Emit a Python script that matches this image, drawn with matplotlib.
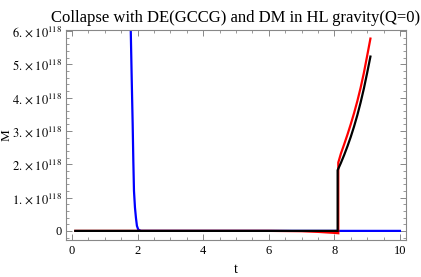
import matplotlib
matplotlib.use("Agg")
import matplotlib.pyplot as plt
from matplotlib.ticker import FixedLocator, MultipleLocator, FuncFormatter

plt.rcParams['font.family'] = ['Liberation Serif', 'DejaVu Serif']
plt.rcParams['mathtext.fontset'] = 'stix'

SCALE = 1e118

# blue curve
t_blue = [1.79, 1.82, 1.85, 1.87, 1.89, 1.92, 1.95, 1.98, 2.02, 2.1, 10.0]
m_blue = [6.1, 4.6, 3.2, 2.1, 1.2, 0.7, 0.39, 0.15, 0.04, 0.0, 0.0]

# red curve
t_red = [0.1, 6.0, 7.0, 7.5, 8.0, 8.12, 8.12, 8.2, 8.3, 8.4, 8.5, 8.6, 8.7, 8.8, 8.9, 9.0, 9.1]
m_red = [0.0, 0.0, -0.01, -0.03, -0.06, -0.07, 2.05, 2.32, 2.60, 2.89, 3.20, 3.53, 3.89, 4.29, 4.74, 5.25, 5.77]

# black curve
t_black = [0.1, 8.1, 8.1, 8.2, 8.3, 8.4, 8.5, 8.6, 8.7, 8.8, 8.9, 9.0, 9.1]
m_black = [0.0, 0.0, 1.82, 2.04, 2.28, 2.54, 2.82, 3.13, 3.47, 3.85, 4.27, 4.74, 5.23]

x_ticks = [0, 2, 4, 6, 8, 10]
y_ticks = [0, 1, 2, 3, 4, 5, 6]

fig = plt.figure(figsize=(4.21, 2.77), dpi=100)
ax = fig.add_axes([0.157, 0.134, 0.807, 0.758])

ax.plot(t_blue, [v * SCALE for v in m_blue], color='#0000ff', lw=1.6, solid_joinstyle='round')
ax.plot(t_red, [v * SCALE for v in m_red], color='#ff0000', lw=1.6, solid_joinstyle='miter')
ax.plot(t_black, [v * SCALE for v in m_black], color='black', lw=1.6, solid_joinstyle='miter')

ax.set_xlim(-0.18, 10.18)
ax.set_ylim(-0.27 * SCALE, 6.03 * SCALE)

ax.xaxis.set_major_locator(FixedLocator(x_ticks))
ax.xaxis.set_minor_locator(MultipleLocator(0.5))
ax.yaxis.set_major_locator(FixedLocator([v * SCALE for v in y_ticks]))
ax.yaxis.set_minor_locator(MultipleLocator(0.2 * SCALE))

def yfmt(v, pos):
    n = round(v / SCALE)
    if n == 0:
        return "0"
    return r"$%d.\times10^{118}$" % n

ax.yaxis.set_major_formatter(FuncFormatter(yfmt))
ax.xaxis.set_major_formatter(FuncFormatter(lambda v, p: "%d" % v))

for s in ax.spines.values():
    s.set_color('#888888')
    s.set_linewidth(0.8)
ax.tick_params(which='both', direction='in', top=True, right=True, color='#888888', labelsize=9)
ax.tick_params(which='major', length=4, width=0.7)
ax.tick_params(which='minor', length=2, width=0.6)
ax.tick_params(axis='y', pad=3)
ax.tick_params(axis='x', pad=4)

ax.set_title("Collapse with DE(GCCG) and DM in HL gravity(Q=0)", fontsize=12, pad=6)
ax.set_xlabel("t", fontsize=10, labelpad=4)
ax.set_ylabel("M", fontsize=9.5)
ax.yaxis.set_label_coords(-0.157, 0.5)

fig.savefig("out.png", dpi=100)
